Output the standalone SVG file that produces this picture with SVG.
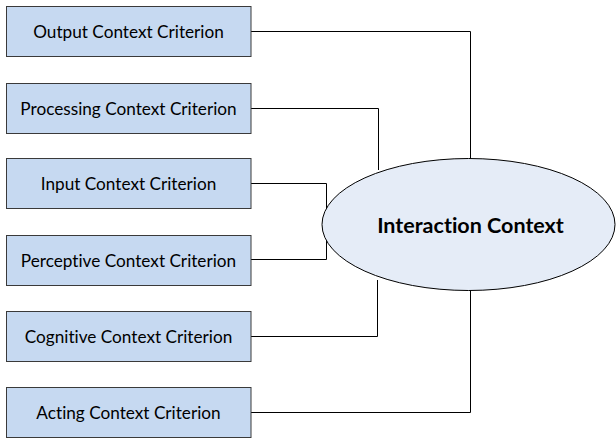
<svg xmlns="http://www.w3.org/2000/svg" width="616" height="440" viewBox="0 0 616 440">
<style>
.box{fill:#C6D9F1;stroke:#3a3a3a;stroke-width:1}
.lbl{font-family:Lato,"Open Sans","Liberation Sans",sans-serif;font-size:17.2px;fill:#000;text-anchor:middle;dominant-baseline:central;font-variant-ligatures:none}
.ell{fill:#E5ECF7;stroke:#000;stroke-width:1}
.big{font-family:Lato,"Open Sans","Liberation Sans",sans-serif;font-size:21.5px;font-weight:bold;fill:#000;text-anchor:middle;dominant-baseline:central;font-variant-ligatures:none}
.conn{fill:none;stroke:#000;stroke-width:1}
</style>
<rect width="616" height="440" fill="#fff"/>
<g id="connectors">
<polyline class="conn" points="251,31.5 470.5,31.5 470.5,160"/>
<polyline class="conn" points="251,108.5 378.5,108.5 378.5,170"/>
<polyline class="conn" points="251,183.5 326.5,183.5 326.5,259.5 251,259.5"/>
<polyline class="conn" points="251,336.5 377.5,336.5 377.5,280"/>
<polyline class="conn" points="251,412.5 470.5,412.5 470.5,290"/>
</g>
<g id="output"><rect class="box" x="6.5" y="6.5" width="244.5" height="50"/><text class="lbl" x="128.5" y="31.5">Output Context Criterion</text></g>
<g id="processing"><rect class="box" x="6.5" y="83.5" width="244.5" height="50"/><text class="lbl" x="128.5" y="108.5">Processing Context Criterion</text></g>
<g id="input"><rect class="box" x="6.5" y="158.5" width="244.5" height="50"/><text class="lbl" x="128.5" y="183.5">Input Context Criterion</text></g>
<g id="perceptive"><rect class="box" x="6.5" y="235.5" width="244.5" height="50"/><text class="lbl" x="128.5" y="260">Perceptive Context Criterion</text></g>
<g id="cognitive"><rect class="box" x="6.5" y="311.5" width="244.5" height="50"/><text class="lbl" x="128.5" y="336.5">Cognitive Context Criterion</text></g>
<g id="acting"><rect class="box" x="6.5" y="387.5" width="244.5" height="50"/><text class="lbl" x="128.5" y="412.5">Acting Context Criterion</text></g>
<g id="interaction"><ellipse class="ell" cx="468.5" cy="224.5" rx="146.5" ry="66"/><text class="big" x="470.5" y="224.5">Interaction Context</text></g>
</svg>
